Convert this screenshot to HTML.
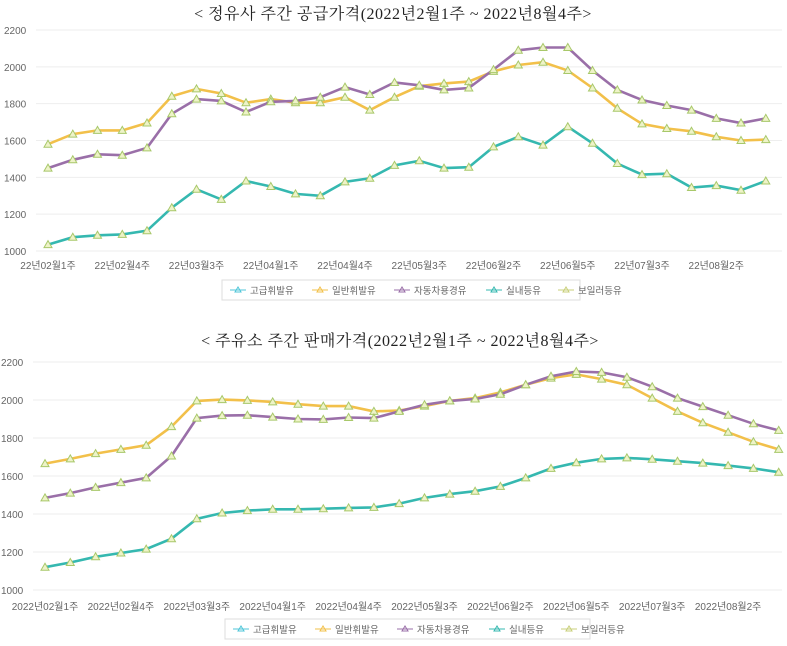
<!DOCTYPE html><html><head><meta charset="utf-8"><style>
body{margin:0;background:#fff;width:787px;height:641px;overflow:hidden}
svg text{font-family:"Liberation Sans","Noto Sans CJK KR",sans-serif}
svg text.t{font-family:"Liberation Serif","Noto Serif CJK KR","Noto Serif CJK SC",serif}
</style></head><body>
<svg id="s" width="787" height="641" xmlns="http://www.w3.org/2000/svg"></svg>
<script>
const s=document.getElementById('s');let h='';
const lab=["고급휘발유","일반휘발유","자동차용경유","실내등유","보일러등유"];
const lc=["#4fc6d8","#f2c04a","#9a6fa8","#35b8b0","#c8cf7a"];
function chart(o){
 h+=`<text class="t" x="${o.tx}" y="${o.ty}" font-size="16" fill="#222" text-anchor="middle" letter-spacing="0.5">${o.title}</text>`;
 const Y=v=>o.y0+(v-1000)/1200*(o.y1-o.y0);
 for(let v=1000;v<=2200;v+=200){const y=Y(v);h+=`<line x1="${o.px}" x2="782" y1="${y}" y2="${y}" stroke="#eee"/><text x="${o.lx}" y="${y+4}" font-size="10" fill="#666">${v}</text>`;}
 o.xl.forEach((t,i)=>{h+=`<text x="${o.x0+i*3*o.dx+(o.xo||0)}" y="${o.xly}" font-size="10" fill="#666" text-anchor="middle">${t}</text>`});
 o.series.forEach(([d,c])=>{const p=d.map((v,i)=>`${(o.x0+i*o.dx).toFixed(1)},${Y(v).toFixed(1)}`);
  h+=`<polyline points="${p.join(' ')}" fill="none" stroke="${c}" stroke-width="2.6"/>`;
  p.forEach(q=>{const [x,y]=q.split(',').map(Number);h+=`<polygon points="${x},${y-4} ${x-4},${y+3} ${x+4},${y+3}" fill="#eef3c8" stroke="#a8c86a" stroke-width="1"/>`});});
 h+=`<rect x="${o.lgx}" y="${o.lgy}" width="${o.lgw}" height="20" fill="#fff" stroke="#ddd"/>`;
 let x=o.lgx+8;lab.forEach((t,i)=>{h+=`<line x1="${x}" x2="${x+16}" y1="${o.lgy+10}" y2="${o.lgy+10}" stroke="${lc[i]}"/><polygon points="${x+8},${o.lgy+7} ${x+5},${o.lgy+12} ${x+11},${o.lgy+12}" fill="none" stroke="${lc[i]}"/><text x="${x+20}" y="${o.lgy+14}" font-size="9.5" fill="#666">${t}</text>`;x+=20+t.length*10+12;});
}
chart({title:"< 정유사 주간 공급가격(2022년2월1주 ~ 2022년8월4주>",tx:393,ty:19,y0:251,y1:30,px:36,lx:4,x0:48,dx:24.75,xly:269,
 xl:["22년02월1주","22년02월4주","22년03월3주","22년04월1주","22년04월4주","22년05월3주","22년06월2주","22년06월5주","22년07월3주","22년08월2주"],
 lgx:222,lgy:280,lgw:358,
 series:[[[1580,1635,1655,1655,1695,1840,1880,1855,1805,1825,1805,1805,1835,1765,1835,1895,1910,1920,1975,2010,2025,1980,1885,1775,1690,1665,1650,1620,1600,1605],"#f2c04a"],
 [[1450,1495,1525,1520,1560,1745,1825,1815,1755,1810,1815,1835,1890,1850,1915,1900,1875,1885,1985,2090,2105,2105,1980,1875,1820,1790,1765,1720,1695,1720],"#9a6fa8"],
 [[1035,1075,1085,1090,1110,1235,1335,1280,1380,1350,1310,1300,1375,1395,1465,1490,1450,1455,1565,1620,1575,1675,1585,1475,1415,1420,1345,1355,1330,1380],"#35b8b0"]]});
chart({title:"< 주유소 주간 판매가격(2022년2월1주 ~ 2022년8월4주>",tx:400,ty:346,y0:590,y1:362,px:33,lx:1,x0:45,dx:25.3,xly:610,
 xl:["2022년02월1주","2022년02월4주","2022년03월3주","2022년04월1주","2022년04월4주","2022년05월3주","2022년06월2주","2022년06월5주","2022년07월3주","2022년08월2주"],
 lgx:225,lgy:619,lgw:365,
 series:[[[1665,1690,1718,1740,1762,1860,1995,2002,1998,1990,1978,1968,1968,1940,1945,1968,1995,2010,2040,2080,2115,2135,2110,2080,2010,1940,1880,1830,1780,1740],"#f2c04a"],
 [[1485,1510,1540,1565,1590,1705,1905,1918,1920,1910,1900,1898,1908,1905,1940,1975,1995,2005,2030,2080,2125,2150,2145,2120,2070,2010,1965,1920,1875,1840],"#9a6fa8"],
 [[1120,1145,1175,1195,1215,1270,1375,1405,1418,1425,1425,1428,1432,1435,1455,1485,1505,1520,1545,1590,1640,1670,1690,1695,1688,1678,1668,1655,1640,1620],"#35b8b0"]]});
s.innerHTML=h;
</script></body></html>
